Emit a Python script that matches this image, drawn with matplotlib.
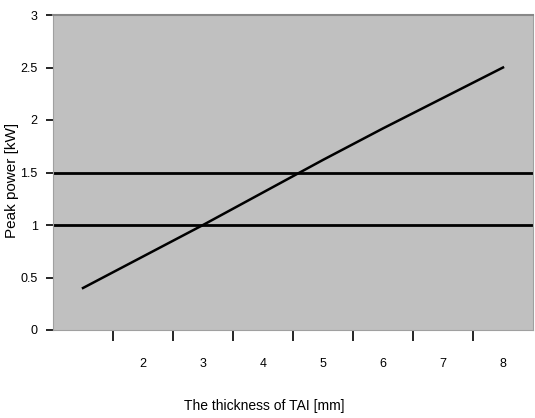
import numpy as np
import matplotlib.pyplot as plt
from matplotlib.ticker import FixedLocator

# data
thickness = ['', '2', '3', '4', '5', '6', '7', '8']
peak_power = [0.40, 0.70, 1.00, 1.31, 1.62, 1.92, 2.21, 2.50]
limits = [1.0, 1.5]
y_ticks = [0, 0.5, 1, 1.5, 2, 2.5, 3]
y_labels = ['0', '0.5', '1', '1.5', '2', '2.5', '3']

plt.rcParams['font.family'] = ['Liberation Sans', 'DejaVu Sans']

fig = plt.figure(figsize=(5.35, 4.18), dpi=100)
ax = fig.add_axes([53 / 535, 88 / 418, 480 / 535, 315 / 418])
ax.set_facecolor('#c0c0c0')

x = np.arange(len(thickness))
ax.plot(x, peak_power, color='black', lw=1.8)
for lim in limits:
    ax.axhline(lim, color='black', lw=2)

ax.set_xlim(-0.5, len(thickness) - 0.5)
ax.set_ylim(0, 3)

# category axis: ticks between categories, labels at centres
ax.xaxis.set_major_locator(FixedLocator(x[:-1] + 0.5))
ax.xaxis.set_minor_locator(FixedLocator(x))
ax.set_xticklabels([], minor=False)
ax.set_xticklabels(thickness, minor=True)
ax.tick_params(axis='x', which='major', length=8, width=1.2, direction='out')
ax.tick_params(axis='x', which='minor', length=0, pad=20, labelsize=9)

ax.set_yticks(y_ticks)
ax.set_yticklabels(y_labels)
ax.tick_params(axis='y', length=5, width=1.2, direction='out', labelsize=9, pad=6)

for side in ['top', 'left', 'right', 'bottom']:
    ax.spines[side].set_color('#a0a0a0')
ax.spines['top'].set_color('#888888')
ax.spines['top'].set_linewidth(1.5)

ax.set_xlabel('The thickness of TAI [mm]', fontsize=10)
ax.set_ylabel('Peak power [kW]', fontsize=11)
ax.xaxis.set_label_coords(0.44, -0.22)
ax.yaxis.set_label_coords(-0.07, 0.476)

fig.savefig('out.png', dpi=100)
